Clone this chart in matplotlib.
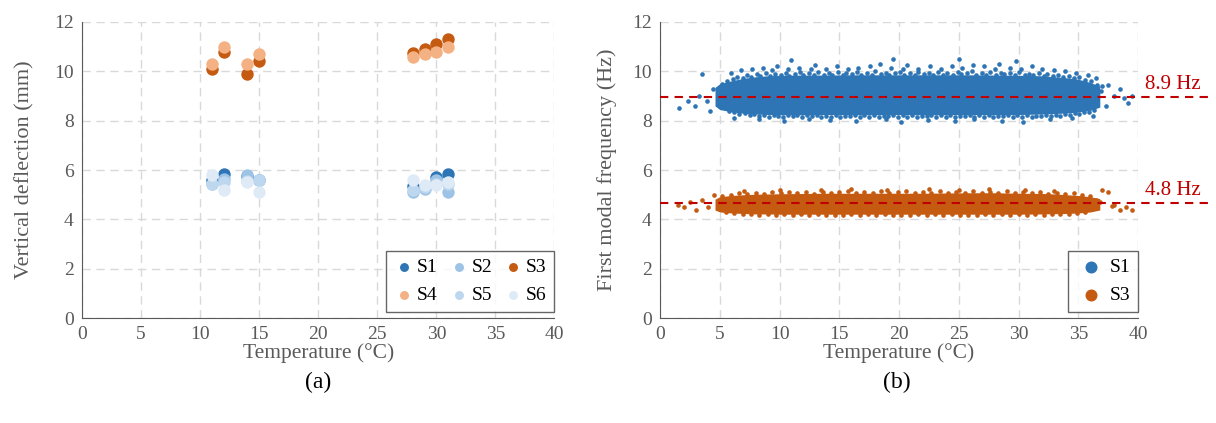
import matplotlib
matplotlib.use('Agg')
import matplotlib.pyplot as plt

plt.rcParams['font.family'] = ['Liberation Serif', 'DejaVu Serif']

# (a) vertical deflection vs temperature
T = [11, 12, 14, 15, 28, 29, 30, 31]
S1 = [5.6, 5.85, 5.75, 5.6, 5.35, 5.3, 5.7, 5.85]
S2 = [5.45, 5.65, 5.8, 5.6, 5.1, 5.25, 5.6, 5.1]
S3 = [10.1, 10.8, 9.9, 10.4, 10.75, 10.9, 11.1, 11.3]
S4 = [10.3, 11.0, 10.3, 10.7, 10.6, 10.7, 10.8, 11.0]
S5 = [5.45, 5.5, 5.55, 5.6, 5.2, 5.3, 5.45, 5.45]
S6 = [5.8, 5.2, 5.5, 5.1, 5.6, 5.4, 5.4, 5.5]
names = ['S1', 'S2', 'S3', 'S4', 'S5', 'S6']
colors = ['#2E75B6', '#9DC3E6', '#C55A11', '#F4B183', '#BDD7EE', '#DEEBF7']

# (b) first modal frequency: dense core band (read envelope) + scattered edge points
tb = [4.6, 5, 6, 7, 8, 9, 10, 12, 14, 16, 18, 20, 22, 24, 26, 28, 30, 32, 33, 34, 35, 36, 36.8]
s1_lo = [8.6, 8.45, 8.36, 8.3, 8.27, 8.25, 8.24, 8.24, 8.25, 8.24, 8.24, 8.25, 8.24, 8.24,
         8.25, 8.24, 8.25, 8.27, 8.29, 8.31, 8.35, 8.42, 8.55]
s1_hi = [9.35, 9.5, 9.62, 9.72, 9.78, 9.82, 9.84, 9.85, 9.85, 9.86, 9.86, 9.86, 9.86, 9.86,
         9.86, 9.85, 9.84, 9.82, 9.78, 9.74, 9.68, 9.55, 9.4]
s3_lo = [4.38, 4.3, 4.26, 4.24, 4.22, 4.22, 4.21, 4.21, 4.21, 4.21, 4.21, 4.21, 4.21, 4.21,
         4.21, 4.21, 4.21, 4.22, 4.23, 4.24, 4.26, 4.3, 4.38]
s3_hi = [4.82, 4.92, 4.97, 5.0, 5.02, 5.03, 5.04, 5.05, 5.06, 5.06, 5.06, 5.06, 5.06, 5.07,
         5.08, 5.08, 5.06, 5.05, 5.03, 5.0, 4.97, 4.92, 4.84]

# near-core edge rows (top then bottom), read along the ragged border
s1_row_t = [5.2, 5.6, 6.1, 6.4, 6.9, 7.3, 7.6, 8.1, 8.4, 8.9, 9.2, 9.6, 10.1, 10.5, 10.8,
            11.3, 11.7, 12.0, 12.5, 12.9, 13.2, 13.7, 14.1, 14.4, 14.9, 15.3, 15.6, 16.1,
            16.5, 16.8, 17.3, 17.7, 18.0, 18.5, 18.9, 19.2, 19.7, 20.1, 20.4, 20.9, 21.3,
            21.6, 22.1, 22.5, 22.8, 23.3, 23.7, 24.0, 24.5, 24.9, 25.2, 25.7, 26.1, 26.4,
            26.9, 27.3, 27.6, 28.1, 28.5, 28.8, 29.3, 29.7, 30.0, 30.5, 30.9, 31.2, 31.7,
            32.1, 32.4, 32.9, 33.3, 33.7, 34.2, 34.6, 35.1, 35.6, 36.1, 36.6,
            5.3, 5.8, 6.2, 6.6, 7.1, 7.5, 7.9, 8.3, 8.7, 9.1, 9.5, 9.9, 10.3, 10.7, 11.1, 11.5,
            11.9, 12.3, 12.7, 13.1, 13.5, 13.9, 14.3, 14.7, 15.1, 15.5, 15.9, 16.3, 16.7, 17.1,
            17.5, 17.9, 18.3, 18.7, 19.1, 19.5, 19.9, 20.3, 20.7, 21.1, 21.5, 21.9, 22.3, 22.7,
            23.1, 23.5, 23.9, 24.3, 24.7, 25.1, 25.5, 25.9, 26.3, 26.7, 27.1, 27.5, 27.9, 28.3,
            28.7, 29.1, 29.5, 29.9, 30.3, 30.7, 31.1, 31.5, 31.9, 32.3, 32.7, 33.1, 33.5, 33.9,
            34.3, 34.7, 35.1, 35.5, 35.9, 36.3]
s1_row_f = [9.5, 9.62, 9.7, 9.78, 9.72, 9.85, 9.78, 9.88, 9.8, 9.92, 9.82, 9.9, 9.85, 9.95,
            9.82, 9.9, 9.96, 9.84, 9.92, 9.86, 9.98, 9.84, 9.93, 9.87, 9.97, 9.84, 9.92,
            9.88, 9.98, 9.85, 9.93, 9.86, 10.0, 9.88, 9.95, 9.84, 9.92, 9.98, 9.86, 9.94,
            9.85, 9.97, 9.88, 9.94, 9.85, 9.99, 9.87, 9.93, 9.85, 9.97, 9.88, 9.94, 10.0,
            9.86, 9.93, 9.87, 9.98, 9.85, 9.95, 9.88, 9.92, 9.85, 9.97, 9.86, 9.9, 9.84,
            9.93, 9.82, 9.88, 9.8, 9.86, 9.76, 9.82, 9.72, 9.76, 9.66, 9.6, 9.45,
            8.55, 8.4, 8.35, 8.28, 8.3, 8.22, 8.26, 8.2, 8.25, 8.17, 8.24, 8.2, 8.15, 8.24,
            8.18, 8.22, 8.14, 8.23, 8.18, 8.25, 8.15, 8.21, 8.17, 8.24, 8.14, 8.2, 8.18,
            8.25, 8.15, 8.22, 8.17, 8.24, 8.13, 8.2, 8.18, 8.25, 8.15, 8.22, 8.17, 8.24,
            8.14, 8.2, 8.18, 8.25, 8.15, 8.22, 8.16, 8.24, 8.13, 8.21, 8.18, 8.25, 8.15,
            8.22, 8.17, 8.24, 8.14, 8.2, 8.18, 8.25, 8.16, 8.22, 8.17, 8.24, 8.15, 8.2,
            8.19, 8.25, 8.18, 8.23, 8.2, 8.27, 8.24, 8.3, 8.28, 8.35, 8.36, 8.45]
# sparse outer points
s1_pt_t = [1.6, 2.3, 2.9, 3.3, 3.5, 3.9, 4.2, 4.4, 5.9, 6.8, 7.7, 8.6, 9.4, 9.8, 10.7, 11.6,
           12.6, 13.0, 13.9, 14.8, 15.7, 16.6, 17.6, 18.4, 19.3, 20.3, 20.7, 21.6, 22.6,
           23.5, 24.4, 25.3, 26.2, 27.1, 28.0, 28.4, 29.3, 30.2, 31.1, 32.0, 33.0, 33.9,
           34.8, 35.8, 36.5, 37.0, 37.5, 38.0, 38.5, 39.2, 39.5, 37.3, 36.9, 38.8,
           6.2, 8.3, 10.4, 12.5, 14.2, 16.4, 18.9, 20.2, 22.4, 24.7, 26.3, 28.6, 30.4,
           32.6, 34.5, 36.2, 11.0, 19.5, 25.0, 29.8]
s1_pt_f = [8.5, 8.8, 8.6, 9.0, 9.9, 8.8, 8.4, 9.3, 9.95, 10.05, 10.1, 10.15, 10.05, 10.2,
           10.1, 10.15, 10.1, 10.25, 10.1, 10.2, 10.1, 10.15, 10.2, 10.3, 10.15, 10.1, 10.25,
           10.1, 10.2, 10.1, 10.2, 10.15, 10.25, 10.2, 10.1, 10.3, 10.15, 10.1, 10.2, 10.1,
           10.05, 10.0, 9.95, 9.85, 9.75, 9.4, 9.45, 9.0, 9.3, 8.7, 9.0, 8.6, 9.2, 8.9,
           8.1, 8.05, 8.0, 8.08, 8.02, 7.98, 8.05, 7.95, 8.03, 7.98, 8.06, 8.0, 7.96, 8.06,
           8.1, 8.2, 10.45, 10.5, 10.5, 10.4]
s3_row_t = [5.2, 5.9, 6.6, 7.3, 8.0, 8.7, 9.4, 10.1, 10.8, 11.5, 12.2, 12.9, 13.6, 14.3,
            15.0, 15.7, 16.4, 17.1, 17.8, 18.5, 19.2, 19.9, 20.6, 21.3, 22.0, 22.7, 23.4,
            24.1, 24.8, 25.5, 26.2, 26.9, 27.6, 28.3, 29.0, 29.7, 30.4, 31.1, 31.8, 32.5,
            33.2, 33.9, 34.6, 35.3, 36.0,
            5.5, 6.2, 6.9, 7.6, 8.3, 9.0, 9.7, 10.4, 11.1, 11.8, 12.5, 13.2, 13.9, 14.6,
            15.3, 16.0, 16.7, 17.4, 18.1, 18.8, 19.5, 20.2, 20.9, 21.6, 22.3, 23.0, 23.7,
            24.4, 25.1, 25.8, 26.5, 27.2, 27.9, 28.6, 29.3, 30.0, 30.7, 31.4, 32.1, 32.8,
            33.5, 34.2, 34.9, 35.6]
s3_row_f = [4.95, 5.0, 5.06, 5.02, 5.09, 5.04, 5.1, 5.05, 5.12, 5.06, 5.1, 5.04, 5.13, 5.06,
            5.1, 5.15, 5.05, 5.11, 5.07, 5.14, 5.05, 5.1, 5.16, 5.06, 5.12, 5.07, 5.15, 5.06,
            5.12, 5.08, 5.17, 5.07, 5.13, 5.08, 5.16, 5.06, 5.12, 5.05, 5.1, 5.04, 5.09,
            5.03, 5.06, 5.0, 4.95,
            4.3, 4.25, 4.22, 4.2, 4.18, 4.21, 4.17, 4.2, 4.16, 4.2, 4.17, 4.21, 4.16, 4.19,
            4.17, 4.21, 4.16, 4.2, 4.17, 4.21, 4.16, 4.19, 4.17, 4.21, 4.16, 4.2, 4.17,
            4.21, 4.16, 4.19, 4.17, 4.21, 4.16, 4.2, 4.17, 4.21, 4.17, 4.2, 4.18, 4.21,
            4.2, 4.23, 4.25, 4.3]
s3_pt_t = [1.5, 2.0, 2.5, 3.0, 3.5, 4.0, 4.5, 36.5, 37.0, 37.5, 38.0, 38.5, 39.0, 39.5,
           7.0, 10.0, 13.5, 16.0, 19.0, 22.5, 25.0, 27.5, 30.5, 33.0, 36.8, 37.8]
s3_pt_f = [4.6, 4.5, 4.7, 4.4, 4.8, 4.5, 5.0, 4.8, 5.2, 5.1, 4.6, 4.4, 4.5, 4.4,
           5.15, 5.18, 5.2, 5.22, 5.2, 5.22, 5.2, 5.24, 5.2, 5.15, 4.7, 4.55]
f_mean = [8.95, 4.65]
f_text = ['8.9 Hz', '4.8 Hz']

gray = '#595959'
fig = plt.figure(figsize=(12.16, 4.23), dpi=100)
ax1 = fig.add_axes([0.0674, 0.248, 0.3886, 0.700])
ax2 = fig.add_axes([0.5428, 0.248, 0.3931, 0.700])

for ax in (ax1, ax2):
    ax.set_xlim(0, 40)
    ax.set_ylim(0, 12)
    ax.set_xticks(range(0, 41, 5))
    ax.set_yticks(range(0, 13, 2))
    ax.grid(True, color='#d9d9d9', linestyle=(0, (6, 4)), linewidth=1)
    ax.set_axisbelow(True)
    for s in ['top', 'right']:
        ax.spines[s].set_visible(False)
    for s in ['left', 'bottom']:
        ax.spines[s].set_color(gray)
    ax.tick_params(length=0, labelsize=14, labelcolor=gray, pad=6)
    ax.set_xlabel('Temperature (°C)', fontsize=15.5, color=gray, labelpad=0)

for vals, name, c in zip([S1, S2, S3, S4, S5, S6], names, colors):
    ax1.scatter(T, vals, s=80, color=c, label=name, linewidths=0, zorder=3)
ax1.set_ylabel('Vertical deflection (mm)', fontsize=16, color=gray, labelpad=14)
h, l = ax1.get_legend_handles_labels()
order = [0, 3, 1, 4, 2, 5]
leg_kw = dict(loc='lower right', bbox_to_anchor=(1.0, 0.02), fontsize=14, fancybox=False,
              edgecolor='#404040', handletextpad=0.15, borderpad=0.4,
              labelspacing=0.55, borderaxespad=0)
leg1 = ax1.legend([h[i] for i in order], [l[i] for i in order], ncol=3, markerscale=0.72,
                  columnspacing=0.6, handlelength=1.0, **leg_kw)
leg1.get_frame().set_linewidth(1.0)

ax2.fill_between(tb, s1_lo, s1_hi, color=colors[0], linewidth=0, zorder=2)
ax2.scatter(s1_row_t + s1_pt_t, s1_row_f + s1_pt_f, s=11, color=colors[0], linewidths=0,
            zorder=2, label='S1')
ax2.fill_between(tb, s3_lo, s3_hi, color=colors[2], linewidth=0, zorder=2)
ax2.scatter(s3_row_t + s3_pt_t, s3_row_f + s3_pt_f, s=11, color=colors[2], linewidths=0,
            zorder=2, label='S3')
trans = ax2.get_yaxis_transform()
for m, txt in zip(f_mean, f_text):
    ax2.plot([0, 1.15], [m, m], transform=trans, color='#C00000', linestyle=(0, (4, 3)),
             linewidth=1.5, clip_on=False, zorder=4)
    ax2.text(1.015, m + 0.15, txt, transform=trans, fontsize=15, color='#C00000',
             ha='left', va='bottom')
ax2.set_ylabel('First modal frequency (Hz)', fontsize=16, color=gray, labelpad=11)
leg2 = ax2.legend(markerscale=2.6, handlelength=1.6, **leg_kw)
leg2.get_frame().set_linewidth(1.0)

fig.text(318 / 1216, 1 - 382 / 423, '(a)', fontsize=17, ha='center', va='center')
fig.text(897 / 1216, 1 - 382 / 423, '(b)', fontsize=17, ha='center', va='center')

fig.savefig('out.png', dpi=100)
